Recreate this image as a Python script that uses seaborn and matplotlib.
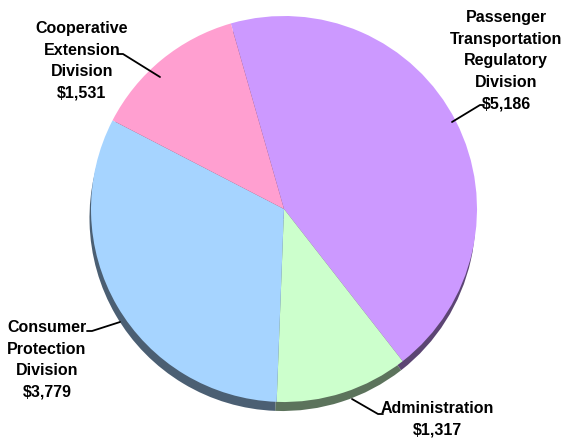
import matplotlib
matplotlib.use("Agg")
import matplotlib.pyplot as plt
import seaborn as sns
from matplotlib.colors import to_rgb

# Data
categories = ["Passenger\nTransportation\nRegulatory\nDivision", "Administration",
              "Consumer\nProtection\nDivision", "Cooperative\nExtension\nDivision"]
values = [5186, 1317, 3779, 1531]
value_labels = ["$5,186", "$1,317", "$3,779", "$1,531"]
colors = ["#CC99FF", "#CCFFCC", "#A6D4FF", "#FF9FD0"]

sns.set_theme(style="white")
plt.rcParams['font.family'] = ['Liberation Sans', 'DejaVu Sans']

W, H = 563, 439
fig = plt.figure(figsize=(W / 100, H / 100), dpi=100)
ax = fig.add_axes([0, 0, 1, 1])
ax.axis("off")

def Y(y):
    return H - y

cx, cy, r = 284, 210, 193
start = 106.0

def darker(c, f=0.45):
    rgb = to_rgb(c)
    return tuple(v * f for v in rgb)

# 3D edge (shadow copy)
ax.pie(values, center=(cx - 1.5, Y(cy + 9)), radius=r, startangle=start,
       counterclock=False, colors=[darker(c) for c in colors],
       wedgeprops=dict(linewidth=0))
ax.pie(values, center=(cx, Y(cy)), radius=r, startangle=start,
       counterclock=False, colors=colors, wedgeprops=dict(linewidth=0))
ax.set_xlim(0, W)
ax.set_ylim(0, H)
ax.set_aspect("equal")

fs = 11.5
tkw = dict(fontsize=fs, fontweight="bold", ha="center", va="center",
           linespacing=1.55, color="black")

# label positions (pixel coords), leader line points
label_specs = [
    (506, 61, [(452, 123), (480, 106), (484, 106)]),
    (437, 419, [(352, 400), (378, 415), (383, 415)]),
    (47, 360, [(120, 323), (92, 332), (87, 332)]),
    (82, 61, [(160, 78), (123, 55), (118, 55)]),
]
for cat, vl, (lx, ly, pts) in zip(categories, value_labels, label_specs):
    ax.text(lx, Y(ly), cat + "\n" + vl, **tkw)
    ax.plot([p[0] for p in pts], [Y(p[1]) for p in pts], color="black", lw=1.3)

fig.savefig("out.png", dpi=100)
